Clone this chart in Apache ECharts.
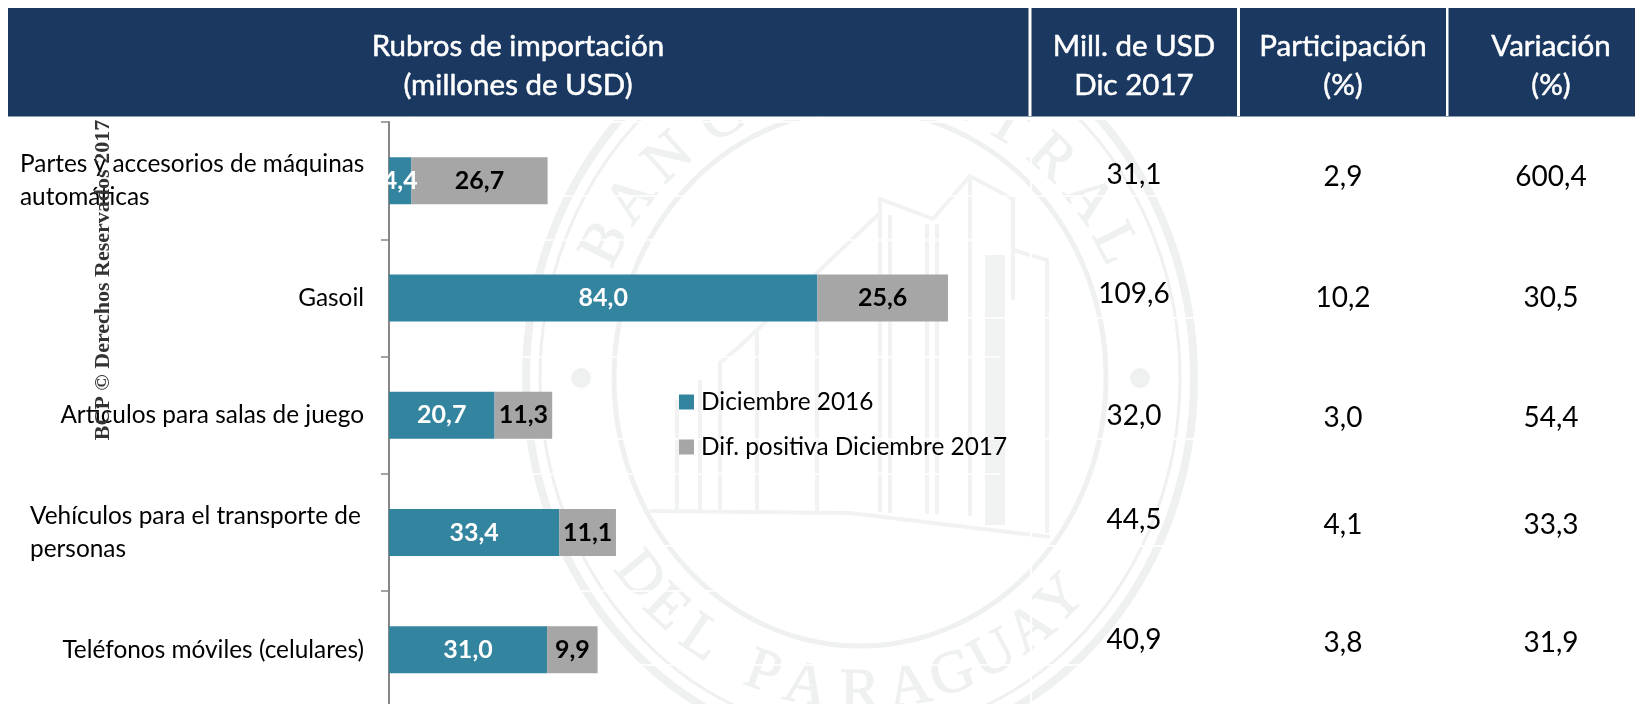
<!DOCTYPE html>
<html><head><meta charset="utf-8">
<style>html,body{margin:0;padding:0;background:#fff}#c{width:1635px;height:704px}</style>
<script src="https://cdn.jsdelivr.net/npm/echarts@6/dist/echarts.min.js"></script>
</head><body><div id="c"></div>
<script>
const categories = ['Partes y accesorios de máquinas automáticas','Gasoil','Artículos para salas de juego','Vehículos para el transporte de personas','Teléfonos móviles (celulares)'];
const categoryLines = [['Partes y accesorios de máquinas','automáticas'],['Gasoil'],['Artículos para salas de juego'],['Vehículos para el transporte de','personas'],['Teléfonos móviles (celulares)']];
const dic2016 = [4.4,84.0,20.7,33.4,31.0];
const difPositiva = [26.7,25.6,11.3,11.1,9.9];
const millUsd = ['31,1','109,6','32,0','44,5','40,9'];
const participacion = ['2,9','10,2','3,0','4,1','3,8'];
const variacion = ['600,4','30,5','54,4','33,3','31,9'];
const headers = ['Rubros de importación\n(millones de USD)','Mill. de USD\nDic 2017','Participación\n(%)','Variación\n(%)'];
const seriesNames = ['Diciembre 2016','Dif. positiva Diciembre 2017'];
const copyright = 'BCP © Derechos Reservados 2017';

// layout (not data)
const FONT = 'Lato';
const headerCells = [[8,1020.5,518],[1031.5,205.5,1134],[1240,206,1343],[1448.5,186.5,1551]];
const rowYA = [175,294,416,520,640];
const rowYB = [177,298,418,525,643];
const colX = [1134,1343,1551];
const WM = '#eef1f0';
const WM2 = '#f1f3f2';
const CX = 860, CY = 378;

const g = [];
// watermark
[[334,372,8],[320,356,3],[246,268,5]].forEach(([a,b,w])=>g.push({type:'ellipse',z:-20,silent:true,shape:{cx:CX,cy:CY,rx:a,ry:b},style:{fill:'none',stroke:WM,lineWidth:w}}));
[[581,378],[1140,378]].forEach(([x,y])=>g.push({type:'circle',z:-20,silent:true,shape:{cx:x,cy:y,r:10},style:{fill:WM}}));
const topLetters = [['B',-63],['A',-53],['N',-42],['C',-29],['O',-16],['C',-2],['E',9],['N',20],['T',31],['R',42],['A',53],['L',63]];
const botLetters = [['D',-51],['E',-43],['L',-34],['P',-20],['A',-11],['R',0],['A',10],['G',19],['U',28],['A',37],['Y',45]];
const wmFont = '60px "Liberation Serif"';
const wmStyle = t => ({text:t,font:wmFont,fill:WM,stroke:WM,lineWidth:1,align:'center',verticalAlign:'middle'});
topLetters.forEach(([t,a])=>{const d=a*Math.PI/180;g.push({type:'text',z:-20,silent:true,x:CX+285*Math.sin(d),y:CY-295*Math.cos(d),rotation:-d,style:wmStyle(t)});});
botLetters.forEach(([t,a])=>{const d=a*Math.PI/180;g.push({type:'text',z:-20,silent:true,x:CX+285*Math.sin(d),y:CY+315*Math.cos(d),rotation:d,style:wmStyle(t)});});
const wmLines = [
 [[650,511],[850,513],[1050,537]],
 [[720,510],[720,363],[740,346],[880,213],[880,199],[933,219],[970,176],[1013,199],[1013,300]],
 [[817,276],[817,512]],[[880,213],[880,512]],[[890,215],[890,513]],[[927,224],[927,514]],[[937,224],[937,514]],[[970,176],[970,516]],
 [[1013,250],[1047,260],[1047,533]],
 [[677,400],[677,510]],[[700,380],[700,510]],[[757,330],[757,512]]
];
wmLines.forEach(p=>g.push({type:'polyline',z:-20,silent:true,shape:{points:p},style:{fill:'none',stroke:WM2,lineWidth:4}}));
g.push({type:'rect',z:-20,silent:true,shape:{x:985,y:255,width:20,height:270},style:{fill:WM2}});
// white rules crossing the watermark
[196,318,439,546,665].forEach(y=>g.push({type:'line',z:-10,silent:true,shape:{x1:8,y1:y,x2:1635,y2:y},style:{stroke:'#fff',lineWidth:1.5}}));
g.push({type:'line',z:-10,silent:true,shape:{x1:1031,y1:116,x2:1031,y2:704},style:{stroke:'#fff',lineWidth:2}});
g.push({type:'rect',z:-9,silent:true,shape:{x:0,y:0,width:1635,height:120},style:{fill:'#fff'}});
// header
headerCells.forEach((c,i)=>{
  g.push({type:'rect',z:5,silent:true,shape:{x:c[0],y:8,width:c[1],height:108},style:{fill:'#1a3860'}});
  g.push({type:'text',z:6,silent:true,x:c[2],y:66,style:{text:headers[i],font:'29.5px '+FONT,lineHeight:39,fill:'#fff',stroke:'#fff',lineWidth:0.5,align:'center',verticalAlign:'middle'}});
});
g.push({type:'line',z:6,silent:true,shape:{x1:8,y1:116.5,x2:1635,y2:116.5},style:{stroke:'#8a9cb2',lineWidth:1}});
// table values
[millUsd,participacion,variacion].forEach((col,ci)=>col.forEach((v,ri)=>{
  g.push({type:'text',z:6,silent:true,x:colX[ci],y:(ci===0?rowYA:rowYB)[ri],style:{text:v,font:'28px '+FONT,fill:'#000',align:'center',verticalAlign:'middle'}});
}));
// rotated copyright
g.push({type:'text',z:8,silent:true,x:103,y:280,rotation:Math.PI/2,style:{text:copyright,font:'bold 22px "Liberation Serif"',fill:'#333',align:'center',verticalAlign:'middle'}});

const fmt = p => p.value.toFixed(1).replace('.',',');
const chart = echarts.init(document.getElementById('c'),null,{renderer:'canvas'});
chart.setOption({
  animation:false,
  backgroundColor:'#fff',
  textStyle:{fontFamily:FONT},
  grid:{left:389,top:122,width:612,height:586.5,containLabel:false,outerBoundsMode:'none'},
  legend:{show:true,orient:'vertical',left:679,top:389,padding:0,itemWidth:15,itemHeight:15,itemGap:19,icon:'rect',selectedMode:false,
    data:seriesNames,textStyle:{fontFamily:FONT,fontSize:24.4,color:'#000',padding:[0,0,0,2],lineHeight:26}},
  xAxis:{type:'value',min:0,max:120,show:false},
  yAxis:{type:'category',inverse:true,data:categories,
    axisLine:{show:true,lineStyle:{color:'#868686',width:2}},
    axisTick:{show:true,length:8,alignWithLabel:false,lineStyle:{color:'#868686',width:1.5}},
    splitLine:{show:true,lineStyle:{color:'#fff',width:1.5}},
    axisLabel:{margin:25,interval:0,color:'#000',fontFamily:FONT,fontSize:24.4,lineHeight:33,align:'right',
      formatter:(v,i)=>{const l=categoryLines[i];return l.length===1?l[0]:l.map(t=>'{w'+i+'|'+t+'}').join('\n');},
      rich:{w0:{width:344,align:'left',fontSize:24.4,lineHeight:33,fontFamily:FONT,color:'#000'},w3:{width:334,align:'left',fontSize:24.4,lineHeight:33,fontFamily:FONT,color:'#000'}}}
  },
  series:[
    {name:seriesNames[0],type:'bar',stack:'t',barWidth:47,data:dic2016,itemStyle:{color:'#33849f'},
     label:{show:true,position:'inside',formatter:fmt,color:'#fff',fontFamily:FONT,fontWeight:'bold',fontSize:25}},
    {name:seriesNames[1],type:'bar',stack:'t',barWidth:47,data:difPositiva,itemStyle:{color:'#a6a6a6'},
     label:{show:true,position:'inside',formatter:fmt,color:'#000',fontFamily:FONT,fontWeight:'bold',fontSize:25}}
  ],
  graphic:{elements:g}
});
</script></body></html>
